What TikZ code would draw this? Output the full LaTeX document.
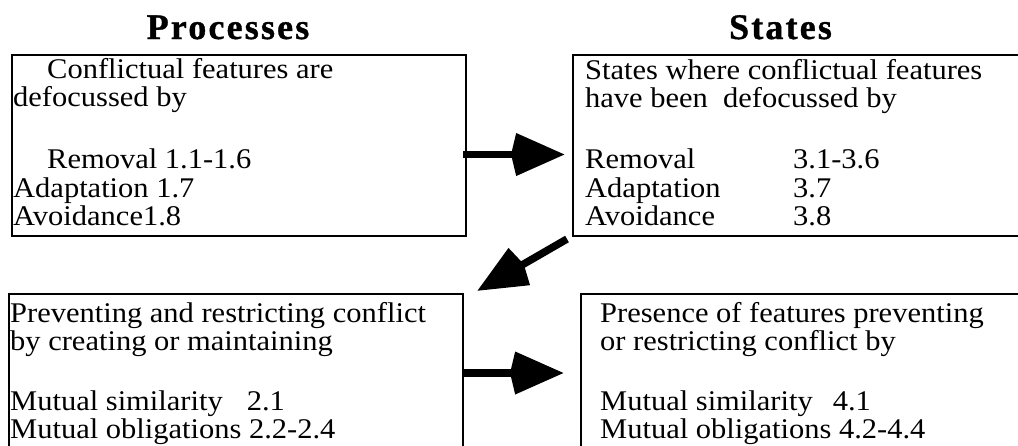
\documentclass[tikz,border=0pt]{standalone}
\usepackage{fontspec}
\setmainfont{Liberation Serif}
\newfontfamily\boxfont{Liberation Serif}[FakeStretch=1.07]
\newfontfamily\lowfont{Liberation Serif}[FakeStretch=1.07]
\newfontfamily\headfont{Liberation Serif}[LetterSpace=6,FakeBold=1]
\usetikzlibrary{arrows.meta,positioning}

\tikzset{
	box/.style={draw,line width=2pt,anchor=north west,inner sep=0pt},
	txt/.style={anchor=base west,inner sep=0pt,font=\boxfont\fontsize{28.5}{29.5}\selectfont},
	lowtxt/.style={anchor=base west,inner sep=0pt,font=\lowfont\fontsize{28.5}{29.5}\selectfont},
	head/.style={anchor=base,inner sep=0pt,font=\headfont\bfseries\fontsize{36}{39}\selectfont},
	bigarrow/.style={line width=7.5pt,-{Stealth[length=48pt,width=40pt,inset=-6pt]}}
}

\begin{document}
\begin{tikzpicture}[x=1pt,y=-1pt]
	\useasboundingbox (0,0) rectangle (1018,445);
	\node[box,minimum width=454pt,minimum height=181pt] (p1) at (11,54) {};
	\node[box,minimum width=453pt,minimum height=181pt] (s1) at (572,54) {};
	\node[box,minimum width=454pt,minimum height=170pt] (p2) at (8,293) {};
	\node[box,minimum width=445pt,minimum height=170pt] (s2) at (580,293) {};
	\node[head] (phead) at ([shift={(-11,-15)}]p1.north) {Processes};
	\node[head] (shead) at ([shift={(-19,-15)}]s1.north) {States};
	\foreach \y/\t [count=\i] in {24/\hspace*{34pt}Conflictual features are,
		52/defocussed by,
		114/\hspace*{34pt}Removal 1.1-1.6,
		143/Adaptation 1.7,
		171/Avoidance1.8}{
		\node[txt] (p1-\i) at ([shift={(2,\y)}]p1.north west) {\t};
	}
	\foreach \y/\t [count=\i] in {25/States where conflictual features,
		53/have been\ \ defocussed by,
		114/\makebox[208pt][l]{Removal}3.1-3.6,
		143/\makebox[208pt][l]{Adaptation}3.7,
		171/\makebox[208pt][l]{Avoidance}3.8}{
		\node[txt] (s1-\i) at ([shift={(13,\y)}]s1.north west) {\t};
	}
	\foreach \y/\t [count=\i] in {29/Preventing and restricting conflict,
		57/by creating or maintaining,
		117/Mutual similarity\hspace{24pt}2.1,
		145/Mutual obligations 2.2-2.4}{
		\node[lowtxt] (p2-\i) at ([shift={(2,\y)}]p2.north west) {\t};
	}
	\foreach \y/\t [count=\i] in {29/Presence of features preventing,
		57/or restricting conflict by,
		117/Mutual similarity\hspace{20pt}4.1,
		145/Mutual obligations 4.2-4.4}{
		\node[lowtxt] (s2-\i) at ([shift={(20,\y)}]s2.north west) {\t};
	}
	\draw[bigarrow] ([shift={(-4,9)}]p1.east) -- ([shift={(-7,9)}]s1.west);
	\draw[bigarrow] ([shift={(-5,2)}]s1.south west) -- ([shift={(13,-2)}]p2.north east);
	\draw[bigarrow] ([shift={(-1,80)}]p2.north east) -- ([shift={(-16,80)}]s2.north west);
\end{tikzpicture}
\end{document}
